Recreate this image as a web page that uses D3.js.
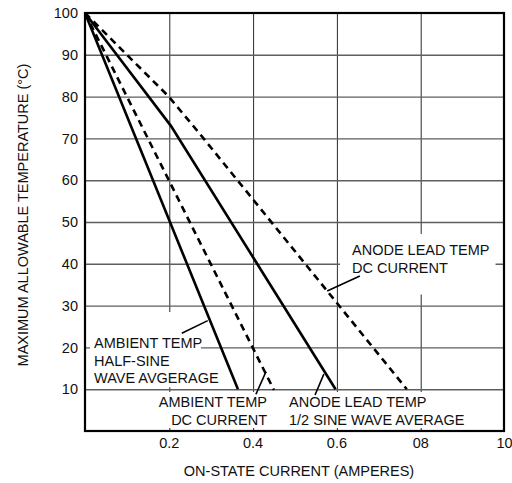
<!DOCTYPE html>
<html>
<head>
<meta charset="utf-8">
<script src="https://cdn.jsdelivr.net/npm/d3@7"></script>
<style>
  html, body { margin: 0; padding: 0; background: #fff; }
  svg { display: block; }
  text { font-family: "Liberation Sans", Arial, sans-serif; fill: #111; }
</style>
</head>
<body>
<svg id="chart" width="512" height="483"></svg>
<script>
// ---- data ----
const xTickValues = [0.2, 0.4, 0.6, 0.8, 1.0];
const xTickLabels = ["0.2", "0.4", "0.6", "08", "10"];
const yTickValues = [10, 20, 30, 40, 50, 60, 70, 80, 90, 100];
const yTickLabels = ["10", "20", "30", "40", "50", "60", "70", "80", "90", "100"];

const ambientHalfSineX = [0, 0.365];
const ambientHalfSineY = [100, 10];
const ambientDcX = [0, 0.451];
const ambientDcY = [100, 9.8];
const anodeHalfSineX = [0, 0.205, 0.598];
const anodeHalfSineY = [100, 73, 10];
const anodeDcX = [0, 0.1, 0.2, 0.278, 0.768];
const anodeDcY = [100, 90, 80, 70.6, 10];

const xTitle = "ON-STATE CURRENT (AMPERES)";
const yTitle = "MAXIMUM ALLOWABLE TEMPERATURE (°C)";

const seriesList = [
  { name: "Ambient temp half-sine wave average", xs: ambientHalfSineX, ys: ambientHalfSineY, dashed: false },
  { name: "Ambient temp DC current", xs: ambientDcX, ys: ambientDcY, dashed: true },
  { name: "Anode lead temp 1/2 sine wave average", xs: anodeHalfSineX, ys: anodeHalfSineY, dashed: false },
  { name: "Anode lead temp DC current", xs: anodeDcX, ys: anodeDcY, dashed: true }
];

const annotationLines1 = ["ANODE LEAD TEMP", "DC CURRENT"];
const annotationLines2 = ["AMBIENT TEMP", "HALF-SINE", "WAVE AVGERAGE"];
const annotationLines3 = ["AMBIENT TEMP", "DC CURRENT"];
const annotationLines4 = ["ANODE LEAD TEMP", "1/2 SINE WAVE AVERAGE"];

(function draw() {
const svg = d3.select("#chart");
const pL = 85, pR = 504, pT = 13, pB = 431;
const x = d3.scaleLinear().domain([0, 1.0]).range([pL, pR]);
const y = d3.scaleLinear().domain([0, 100]).range([pB, pT]);
const W = pR - pL, H = pB - pT;
const FONT = "Liberation Sans, Arial, sans-serif";
const FS = 14.5;

// grid lines
const gridX = svg.append("g").attr("transform", `translate(0.5,${pB})`)
  .call(d3.axisBottom(x).tickValues(xTickValues.slice(0, 4)).tickSize(-H).tickFormat(""));
gridX.select(".domain").remove();
gridX.selectAll("line").attr("stroke", "#2a2a2a").attr("stroke-width", 1);

const gridY = svg.append("g").attr("transform", `translate(${pL},0)`)
  .call(d3.axisLeft(y).tickValues(yTickValues.slice(0, 9)).tickSize(-W).tickFormat(""));
gridY.select(".domain").remove();
gridY.selectAll("line").attr("stroke", "#5e5e5e").attr("stroke-width", 1.4);

// tick labels through axes
const axB = svg.append("g").attr("transform", `translate(0,${pB})`)
  .call(d3.axisBottom(x).tickValues(xTickValues).tickSize(0).tickPadding(17)
    .tickFormat((d, i) => xTickLabels[i]));
axB.select(".domain").remove();
axB.selectAll("text").attr("font-size", FS).attr("font-family", FONT).attr("fill", "#111").attr("dy", 0);

const axL = svg.append("g").attr("transform", `translate(${pL},0)`)
  .call(d3.axisLeft(y).tickValues(yTickValues).tickSize(0).tickPadding(7)
    .tickFormat((d, i) => yTickLabels[i]));
axL.select(".domain").remove();
axL.selectAll("text").attr("font-size", FS).attr("font-family", FONT).attr("fill", "#111");

// axis titles
svg.append("text").attr("x", 299).attr("y", 476).attr("text-anchor", "middle")
  .attr("font-size", FS).text(xTitle);
svg.append("text").attr("transform", "translate(28,215) rotate(-90)").attr("text-anchor", "middle")
  .attr("font-size", FS).text(yTitle);

// annotations (white boxes mask grid)
function annotate(lines, ax, ay, anchor, lh, pad) {
  const g = svg.append("g");
  const rect = g.append("rect").attr("fill", "#fff");
  const t = g.append("text").attr("font-size", FS).attr("text-anchor", anchor);
  lines.forEach((s, i) => {
    t.append("tspan").attr("x", x(ax)).attr("y", y(ay) + i * lh).text(s);
  });
  const bb = t.node().getBBox();
  rect.attr("x", bb.x - pad[0]).attr("y", bb.y - pad[1])
    .attr("width", bb.width + pad[0] + pad[2]).attr("height", bb.height + pad[1] + pad[3]);
}
annotate(annotationLines1, x.invert(352), y.invert(255), "start", 17.5, [12, 8, 6, 19]);
annotate(annotationLines2, x.invert(94), y.invert(348), "start", 17.6, [4, 23, -18, 1]);
annotate(annotationLines3, x.invert(267), y.invert(407), "end", 18, [6, 2, 3, 0]);
annotate(annotationLines4, x.invert(289), y.invert(407), "start", 18, [4, 2, 5, 0]);

// leader lines
const leaders = [
  [[0.656, 37.1], [0.578, 33.5]],
  [[0.231, 23.4], [0.293, 26.4]],
  [[0.408, 8.8], [0.432, 14.2]],
  [[0.549, 8.6], [0.570, 13.6]]
];
svg.append("g").selectAll("line").data(leaders).join("line")
  .attr("x1", d => x(d[0][0])).attr("y1", d => y(d[0][1]))
  .attr("x2", d => x(d[1][0])).attr("y2", d => y(d[1][1]))
  .attr("stroke", "#000").attr("stroke-width", 1.6);

// series
const line = d3.line().x(d => x(d[0])).y(d => y(d[1]));
svg.append("g").selectAll("path").data(seriesList).join("path")
  .attr("d", s => line(s.xs.map((v, i) => [v, s.ys[i]])))
  .attr("fill", "none").attr("stroke", "#000").attr("stroke-width", 2.6)
  .attr("stroke-dasharray", s => s.dashed ? "7,5" : null);

// frame
svg.append("rect").attr("x", pL).attr("y", pT).attr("width", W).attr("height", H)
  .attr("fill", "none").attr("stroke", "#000").attr("stroke-width", 2.2);
})();
</script>
</body>
</html>
